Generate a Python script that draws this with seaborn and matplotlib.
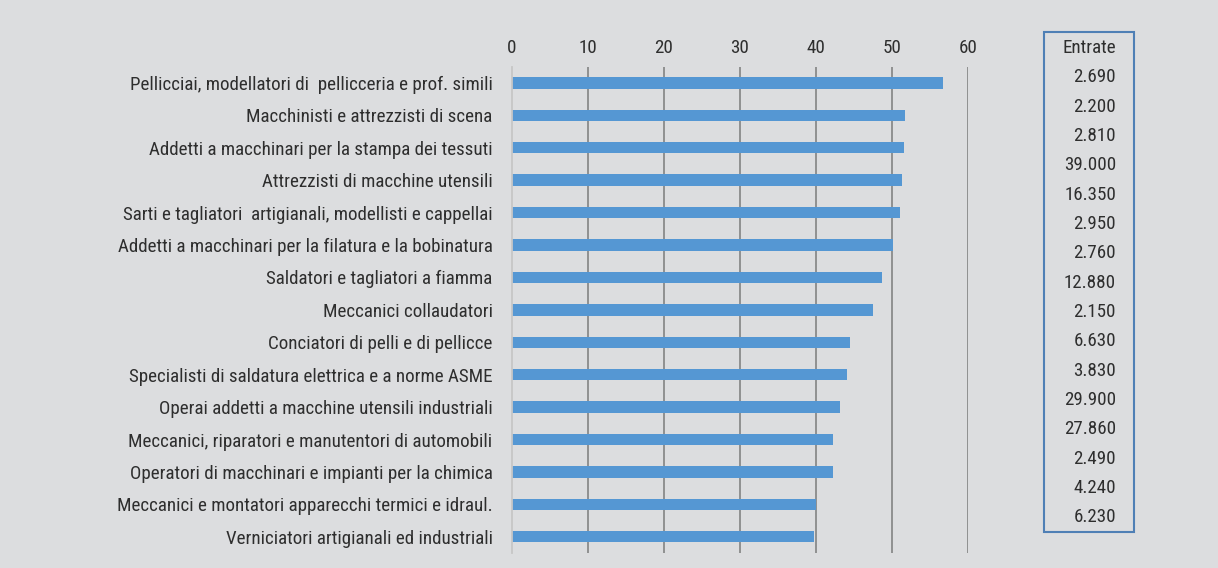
import pandas as pd
import matplotlib.pyplot as plt
import seaborn as sns
from matplotlib.patches import Rectangle

# data
professioni = [
    "Pellicciai, modellatori di  pellicceria e prof. simili",
    "Macchinisti e attrezzisti di scena",
    "Addetti a macchinari per la stampa dei tessuti",
    "Attrezzisti di macchine utensili",
    "Sarti e tagliatori  artigianali, modellisti e cappellai",
    "Addetti a macchinari per la filatura e la bobinatura",
    "Saldatori e tagliatori a fiamma",
    "Meccanici collaudatori",
    "Conciatori di pelli e di pellicce",
    "Specialisti di saldatura elettrica e a norme ASME",
    "Operai addetti a macchine utensili industriali",
    "Meccanici, riparatori e manutentori di automobili",
    "Operatori di macchinari e impianti per la chimica",
    "Meccanici e montatori apparecchi termici e idraul.",
    "Verniciatori artigianali ed industriali",
]
valori = [56.8, 51.7, 51.6, 51.4, 51.1, 50.1, 48.7, 47.5, 44.5, 44.1, 43.2, 42.2, 42.2, 40.0, 39.8]
entrate = ["2.690", "2.200", "2.810", "39.000", "16.350", "2.950", "2.760", "12.880",
           "2.150", "6.630", "3.830", "29.900", "27.860", "2.490", "4.240", "6.230"]
ticks = [0, 10, 20, 30, 40, 50, 60]

df = pd.DataFrame({"Professione": professioni, "Valore": valori})

bg = "#dcdddf"
txt = "#2e2e2e"
fs = 13.7
sns.set_style("white")
plt.rcParams["font.family"] = ["Roboto Condensed", "Archivo Narrow", "DejaVu Sans"]

W, H = 1218, 568
fig = plt.figure(figsize=(W / 100, H / 100), dpi=100, facecolor=bg)
ax = fig.add_axes([512 / W, 1 - 553 / H, (967.7 - 512) / W, (553 - 66.7) / H])
ax.set_facecolor(bg)

# vertical grid lines under the bars
for t in ticks[1:]:
    ax.axvline(t, color="#8a8a8a", lw=1.3, zorder=0)

sns.barplot(data=df, x="Valore", y="Professione", orient="h", color="#5597d3",
            saturation=1, width=0.35, linewidth=0, ax=ax)

ax.set_xlim(0, 60)
ax.set_ylim(14.5, -0.5)
ax.set_xticks(ticks)
ax.xaxis.tick_top()
ax.tick_params(axis="x", length=0, pad=7, labelsize=fs, colors=txt)
ax.tick_params(axis="y", length=0, pad=14, labelsize=fs, colors=txt)
for s in ["top", "right", "bottom"]:
    ax.spines[s].set_visible(False)
ax.spines["left"].set_color("#c6c6c6")
ax.spines["left"].set_linewidth(1.3)
ax.set_xlabel(None)
ax.set_ylabel(None)

# riquadro con le entrate
box = Rectangle((1044.3 / W, 1 - 531.7 / H), 90 / W, 500 / H, transform=fig.transFigure,
                fill=False, edgecolor="#4f7fb5", lw=1.5)
fig.patches.append(box)
fig.text(1116 / W, 1 - 48.3 / H, "Entrate", ha="right", va="center", fontsize=fs, color=txt)
for i, v in enumerate(entrate):
    fig.text(1116 / W, 1 - (77.5 + i * 29.33) / H, v, ha="right", va="center",
             fontsize=fs, color=txt)

fig.savefig("out.png", dpi=100, facecolor=bg)
